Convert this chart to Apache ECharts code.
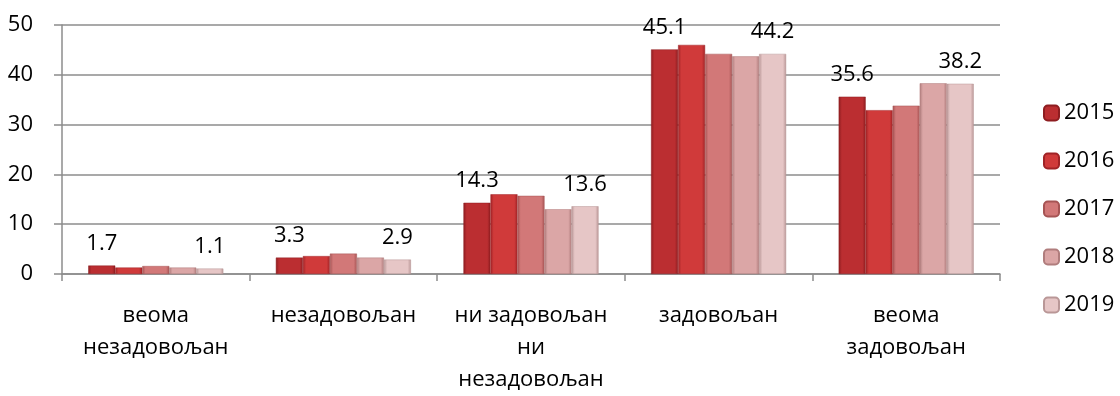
<!DOCTYPE html>
<html>
<head>
<meta charset="utf-8">
<script src="https://cdn.jsdelivr.net/npm/echarts@6/dist/echarts.min.js"></script>
<style>
html,body{margin:0;padding:0;background:#fff;}
#chart{width:1120px;height:396px;}
</style>
</head>
<body>
<div id="chart"></div>
<script>
const categories = ['веома\nнезадовољан', 'незадовољан', 'ни задовољан\nни\nнезадовољан', 'задовољан', 'веома\nзадовољан'];
const years = ['2015', '2016', '2017', '2018', '2019'];
const v2015 = [1.7, 3.3, 14.3, 45.1, 35.6];
const v2016 = [1.3, 3.6, 16.0, 46.0, 32.9];
const v2017 = [1.6, 4.1, 15.7, 44.2, 33.8];
const v2018 = [1.3, 3.3, 13.0, 43.7, 38.3];
const v2019 = [1.1, 2.9, 13.6, 44.2, 38.2];
const yTicks = [0, 10, 20, 30, 40, 50];

const seriesValues = [v2015, v2016, v2017, v2018, v2019];
const labeled = [true, false, false, false, true];
const palette = [
  ['#8e1d20', '#bb2e31'],
  ['#a02326', '#d03a3a'],
  ['#a65454', '#d27878'],
  ['#b07d7d', '#dba6a6'],
  ['#b99797', '#e6c6c6']
];
function grad(p) {
  return new echarts.graphic.LinearGradient(0, 0, 1, 0, [
    {offset: 0, color: p[0]},
    {offset: 0.12, color: p[1]},
    {offset: 0.88, color: p[1]},
    {offset: 1, color: p[0]}
  ]);
}
const FONT = '"Open Sans", "Noto Sans", sans-serif';
const chart = echarts.init(document.getElementById('chart'));
chart.setOption({
  animation: false,
  backgroundColor: '#fff',
  textStyle: {fontFamily: FONT},
  grid: {left: 62, right: 120, top: 25, bottom: 109, containLabel: false},
  legend: {
    orient: 'vertical',
    left: 1038,
    top: 97,
    itemWidth: 15,
    itemHeight: 15,
    itemGap: 26,
    data: years,
    textStyle: {fontSize: 22, color: '#000', fontFamily: FONT, lineHeight: 22}
  },
  xAxis: {
    type: 'category',
    data: categories,
    axisLine: {lineStyle: {color: '#8c8c8c', width: 1.5}},
    axisTick: {show: true, length: 7, lineStyle: {color: '#8c8c8c', width: 1.5}},
    axisLabel: {fontSize: 22, color: '#000', lineHeight: 32, margin: 26, interval: 0, fontFamily: FONT}
  },
  yAxis: {
    type: 'value',
    min: yTicks[0],
    max: yTicks[yTicks.length - 1],
    interval: 10,
    axisLine: {show: true, lineStyle: {color: '#8c8c8c', width: 1.5}},
    axisTick: {show: true, length: 8, lineStyle: {color: '#8c8c8c', width: 1.5}},
    splitLine: {lineStyle: {color: '#8c8c8c', width: 1.5}},
    axisLabel: {fontSize: 22, color: '#000', margin: 29, fontFamily: FONT}
  },
  series: years.map((y, i) => ({
    name: y,
    type: 'bar',
    data: seriesValues[i],
    barGap: '0%',
    barCategoryGap: '28%',
    itemStyle: {color: grad(palette[i]), borderColor: palette[i][0], borderWidth: 0.5},
    label: {
      show: labeled[i],
      position: 'top',
      distance: 11,
      fontSize: 22,
      color: '#000',
      fontFamily: FONT,
      formatter: (p) => p.value.toFixed(1)
    }
  }))
});
</script>
</body>
</html>
